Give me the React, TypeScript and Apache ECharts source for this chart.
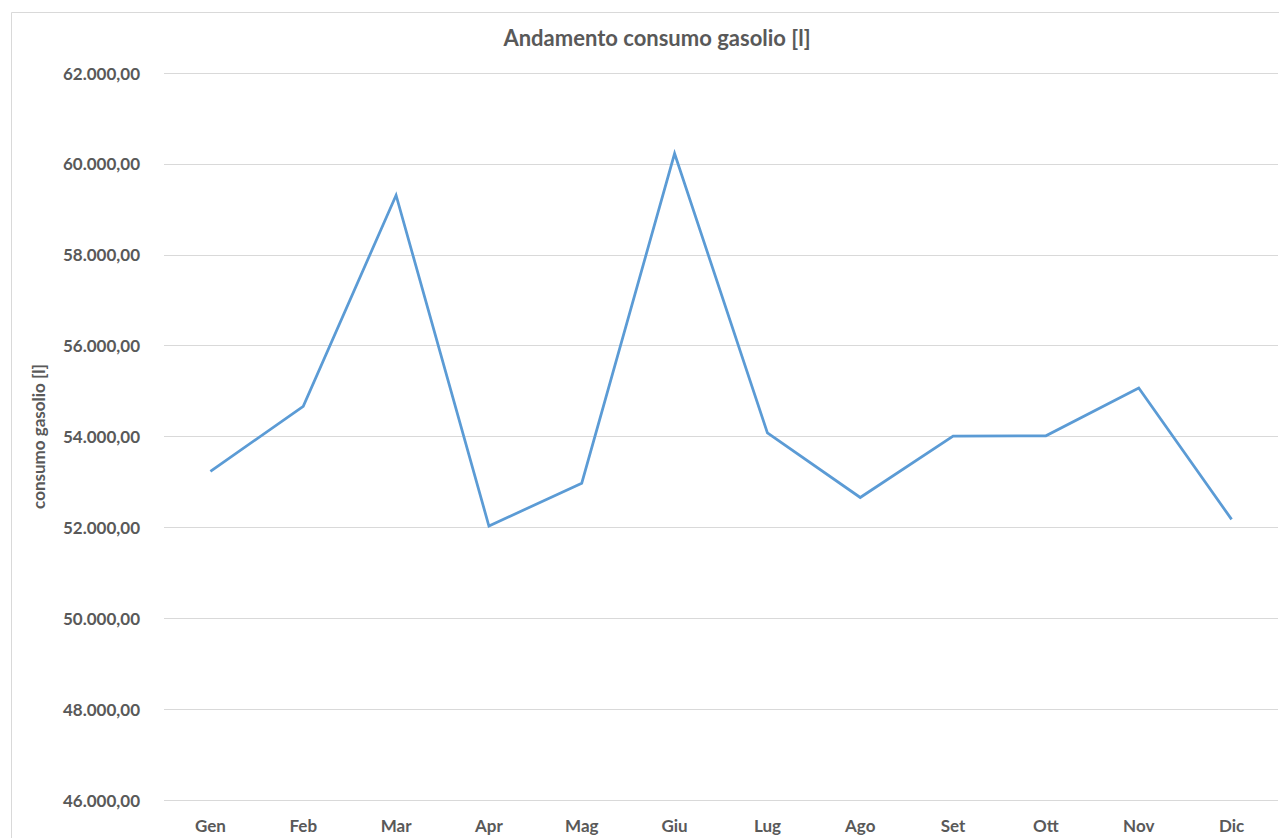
import React, { useEffect, useRef } from "react";
import * as echarts from "echarts";

// Monthly diesel consumption (litres)
const months = ["Gen", "Feb", "Mar", "Apr", "Mag", "Giu", "Lug", "Ago", "Set", "Ott", "Nov", "Dic"];
const consumo = [53232, 54665, 59310, 52030, 52972, 60228, 54081, 52658, 54007, 54015, 55069, 52176];

const yMin = 46000;
const yMax = 62000;
const yStep = 2000;

const FONT = "Lato, 'Open Sans', 'Noto Sans', sans-serif";
const TEXT = "#595959";

// Italian number format: 62.000,00
function fmtIt(v: number): string {
  const [int, dec] = v.toFixed(2).split(".");
  return int.replace(/\B(?=(\d{3})+(?!\d))/g, ".") + "," + dec;
}

export default function App() {
  const ref = useRef<HTMLDivElement>(null);

  useEffect(() => {
    if (!ref.current) return;
    const chart = echarts.init(ref.current, null, { renderer: "svg" });
    chart.setOption({
      animation: false,
      backgroundColor: "#ffffff",
      textStyle: { fontFamily: FONT },
      title: {
        text: "Andamento consumo gasolio [l]",
        left: 652,
        top: 21,
        textAlign: "center",
        textStyle: { fontFamily: FONT, fontSize: 22, fontWeight: "bold", color: TEXT },
      },
      graphic: [
        {
          type: "rect",
          shape: { x: 11.5, y: 12.5, width: 1400, height: 900 },
          style: { fill: "none", stroke: "#d9d9d9", lineWidth: 1 },
          silent: true,
          z: -1,
        },
      ],
      grid: { left: 164, right: 1, top: 73, bottom: 38, containLabel: false },
      xAxis: {
        type: "category",
        data: months,
        boundaryGap: true,
        axisLine: { show: false },
        axisTick: { show: false },
        axisLabel: {
          margin: 17,
          fontFamily: FONT,
          fontSize: 17,
          fontWeight: "bold",
          color: TEXT,
        },
      },
      yAxis: {
        type: "value",
        min: yMin,
        max: yMax,
        interval: yStep,
        name: "consumo gasolio [l]",
        nameLocation: "middle",
        nameRotate: 90,
        nameGap: 117,
        nameTextStyle: { fontFamily: FONT, fontSize: 17, fontWeight: "bold", color: TEXT },
        axisLine: { show: false },
        axisTick: { show: false },
        splitLine: { lineStyle: { color: "#d9d9d9", width: 1 } },
        axisLabel: {
          margin: 24,
          fontFamily: FONT,
          fontSize: 17,
          fontWeight: "bold",
          color: TEXT,
          formatter: (v: number) => fmtIt(v),
        },
      },
      series: [
        {
          type: "line",
          data: consumo,
          showSymbol: false,
          symbol: "none",
          lineStyle: { color: "#5b9bd5", width: 2.75, join: "miter" },
          itemStyle: { color: "#5b9bd5" },
        },
      ],
    });
    return () => chart.dispose();
  }, []);

  return (
    <div
      ref={ref}
      style={{ position: "fixed", left: 0, top: 0, width: 1279, height: 838, background: "#fff" }}
    />
  );
}
